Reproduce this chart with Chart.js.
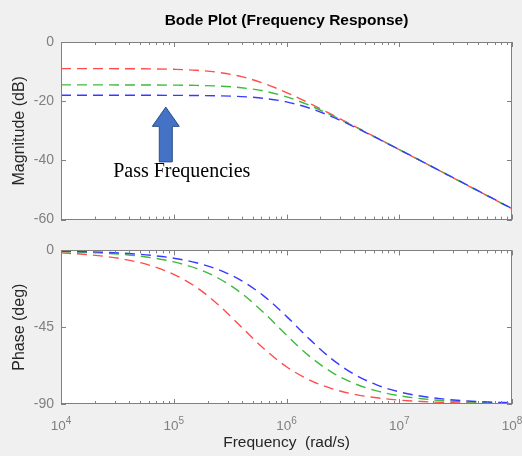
<!DOCTYPE html>
<html><head><meta charset="utf-8">
<script src="https://cdn.jsdelivr.net/npm/chart.js@4/dist/chart.umd.min.js"></script>
<style>
html,body{margin:0;padding:0;background:#f0f0f0;}
#wrap{position:relative;width:522px;height:456px;overflow:hidden;background:#f0f0f0;}
#c1{position:absolute;left:0;top:0;}
#c2{position:absolute;left:0;top:235px;}
</style></head><body>
<div id="wrap"><canvas id="c1" width="522" height="235"></canvas><canvas id="c2" width="522" height="221"></canvas></div>
<script>
// ---- data ----
const freqs = [1e4, 1.585e4, 2.512e4, 3.981e4, 6.31e4, 1e5, 1.585e5, 2.512e5, 3.981e5, 6.31e5, 1e6, 1.585e6, 2.512e6, 3.981e6, 6.31e6, 1e7, 1.585e7, 2.512e7, 3.981e7, 6.31e7, 1e8];
const magRed   = [-9.00,-9.01,-9.01,-9.04,-9.09,-9.23,-9.55,-10.28,-11.69,-13.99,-17.07,-20.64,-24.46,-28.38,-32.35,-36.34,-40.33,-44.33,-48.33,-52.33,-56.33];
const magGreen = [-14.50,-14.50,-14.50,-14.51,-14.53,-14.57,-14.66,-14.90,-15.44,-16.56,-18.52,-21.34,-24.76,-28.51,-32.40,-36.36,-40.34,-44.33,-48.33,-52.33,-56.33];
const magBlue  = [-18.00,-18.00,-18.00,-18.00,-18.01,-18.03,-18.07,-18.18,-18.44,-19.03,-20.23,-22.29,-25.19,-28.66,-32.43,-36.34,-40.30,-44.28,-48.28,-52.27,-56.27];
const phaseRed   = [-1.43,-2.27,-3.59,-5.68,-8.97,-14.04,-21.6,-32.1,-44.86,-57.6,-68.2,-75.8,-80.95,-84.26,-86.37,-87.71,-88.55,-89.09,-89.42,-89.64,-89.77];
const phaseGreen = [-0.67,-1.07,-1.69,-2.68,-4.25,-6.71,-10.56,-16.46,-25.1,-36.6,-49.64,-61.8,-71.3,-77.95,-82.33,-85.14,-86.93,-88.06,-88.78,-89.23,-89.51];
const phaseBlue  = [-0.46,-0.73,-1.15,-1.82,-2.89,-4.57,-7.23,-11.36,-17.67,-26.79,-38.66,-51.74,-63.55,-72.57,-78.79,-82.87,-85.49,-87.15,-88.2,-88.87,-89.28];
const xTickExponents = [4, 5, 6, 7, 8];
const magTicks = [0, -20, -40, -60];
const phaseTicks = [0, -45, -90];
const titleText = 'Bode Plot (Frequency Response)';
const magLabel = 'Magnitude (dB)';
const phaseLabel = 'Phase (deg)';
const freqLabel = 'Frequency  (rad/s)';
const annotationText = 'Pass Frequencies';
// annotation anchors (data space)
const arrowFreq = 8.5e4, arrowTipDb = -22, arrowHeadDb = -28.5, arrowBaseDb = -40.5;
const textFreq = 2.9e4, textDb = -45.5;

// ---- styling ----
const FONT = "'Liberation Sans', Arial, Helvetica, sans-serif";
const SERIF = "'Liberation Serif', 'Times New Roman', serif";
const frameColor = '#808080';
const tickColor = '#808080';
const labelColor = '#262626';
const RED = '#ff4d4d', GREEN = '#3dbb3d', BLUE = '#3a3aff';
Chart.defaults.font.family = FONT;

function series(vals, color, order) {
  return {
    data: freqs.map((f, i) => ({x: f, y: vals[i]})),
    borderColor: color, borderWidth: 1.4, borderDash: [10, 6],
    pointRadius: 0, cubicInterpolationMode: 'monotone', fill: false, order: order
  };
}

const frame = {
  id: 'frame',
  beforeDraw(chart) {
    const a = chart.chartArea, c = chart.ctx;
    c.save(); c.fillStyle = '#ffffff';
    c.fillRect(a.left, a.top, a.right - a.left, a.bottom - a.top);
    c.restore();
  },
  afterDraw(chart) {
    const a = chart.chartArea, c = chart.ctx, xs = chart.scales.x, ys = chart.scales.y;
    const yTicks = chart.options.plugins.frame.yTicks;
    c.save();
    c.strokeStyle = frameColor; c.lineWidth = 1;
    c.beginPath();
    const major = 5, minor = 3;
    xTickExponents.forEach((e, i) => {
      const x = Math.round(xs.getPixelForValue(Math.pow(10, e))) + 0.5;
      c.moveTo(x, a.top); c.lineTo(x, a.top + major);
      c.moveTo(x, a.bottom); c.lineTo(x, a.bottom - major);
      if (i < xTickExponents.length - 1) {
        for (let m = 2; m <= 9; m++) {
          const xm = Math.round(xs.getPixelForValue(m * Math.pow(10, e))) + 0.5;
          c.moveTo(xm, a.top); c.lineTo(xm, a.top + minor);
          c.moveTo(xm, a.bottom); c.lineTo(xm, a.bottom - minor);
        }
      }
    });
    yTicks.forEach(v => {
      const y = Math.round(ys.getPixelForValue(v)) + 0.5;
      c.moveTo(a.left, y); c.lineTo(a.left + major, y);
      c.moveTo(a.right, y); c.lineTo(a.right - major, y);
    });
    c.stroke();
    c.strokeRect(Math.round(a.left) + 0.5, Math.round(a.top) + 0.5,
                 Math.round(a.right - a.left) - 1, Math.round(a.bottom - a.top) - 1);
    c.restore();
  }
};

const annotation = {
  id: 'annot',
  afterDraw(chart) {
    const c = chart.ctx, xs = chart.scales.x, ys = chart.scales.y;
    const cx = xs.getPixelForValue(arrowFreq);
    const tip = ys.getPixelForValue(arrowTipDb);
    const head = ys.getPixelForValue(arrowHeadDb);
    const base = ys.getPixelForValue(arrowBaseDb);
    const hw = 13.5, sw = 6.5;
    c.save();
    c.beginPath();
    c.moveTo(cx, tip);
    c.lineTo(cx + hw, head);
    c.lineTo(cx + sw, head);
    c.lineTo(cx + sw, base);
    c.lineTo(cx - sw, base);
    c.lineTo(cx - sw, head);
    c.lineTo(cx - hw, head);
    c.closePath();
    c.fillStyle = '#4472c4'; c.fill();
    c.strokeStyle = '#2f4f8a'; c.lineWidth = 1; c.stroke();
    c.fillStyle = '#000000';
    c.font = '20px ' + SERIF;
    c.textAlign = 'left'; c.textBaseline = 'alphabetic';
    c.fillText(annotationText, xs.getPixelForValue(textFreq), ys.getPixelForValue(textDb));
    c.restore();
  }
};

const xLabels = {
  id: 'xlabels',
  afterDraw(chart) {
    const c = chart.ctx, xs = chart.scales.x, a = chart.chartArea;
    c.save();
    c.fillStyle = tickColor;
    c.textBaseline = 'alphabetic'; c.textAlign = 'left';
    xTickExponents.forEach(e => {
      const x = xs.getPixelForValue(Math.pow(10, e));
      c.font = '13.5px ' + FONT;
      const w1 = c.measureText('10').width;
      c.font = '10px ' + FONT;
      const w2 = c.measureText(String(e)).width;
      const start = x - (w1 + w2) / 2;
      c.font = '13.5px ' + FONT;
      c.fillText('10', start, a.bottom + 26);
      c.font = '10px ' + FONT;
      c.fillText(String(e), start + w1, a.bottom + 20);
    });
    c.restore();
  }
};

function yAxis(min, max, ticksArr, label) {
  return {
    type: 'linear', min: min, max: max,
    afterBuildTicks: s => { s.ticks = ticksArr.map(v => ({value: v})); },
    afterFit: s => { s.width = 61; },
    grid: {display: false, drawTicks: false}, border: {display: false},
    ticks: {color: tickColor, font: {size: 14, family: FONT}, padding: 7},
    title: {display: true, text: label, color: labelColor, font: {size: 16, family: FONT}, padding: {top: 10.4, bottom: 0}}
  };
}

new Chart(document.getElementById('c1'), {
  type: 'line',
  data: {datasets: [series(magRed, RED, 3), series(magGreen, GREEN, 2), series(magBlue, BLUE, 1)]},
  options: {
    responsive: false, animation: false, devicePixelRatio: 1,
    layout: {padding: {top: 0, right: 10, bottom: 8, left: 0}},
    plugins: {
      legend: {display: false}, tooltip: {enabled: false},
      title: {display: true, text: titleText, fullSize: false, color: '#000000',
              font: {size: 15.5, weight: 'bold', family: FONT}, padding: {top: 11.2, bottom: 12.2}},
      frame: {yTicks: magTicks}
    },
    scales: {
      x: {type: 'logarithmic', min: 1e4, max: 1e8, display: false},
      y: yAxis(-60, 0, magTicks, magLabel)
    }
  },
  plugins: [frame, annotation]
});

new Chart(document.getElementById('c2'), {
  type: 'line',
  data: {datasets: [series(phaseRed, RED, 3), series(phaseGreen, GREEN, 2), series(phaseBlue, BLUE, 1)]},
  options: {
    responsive: false, animation: false, devicePixelRatio: 1,
    layout: {padding: {top: 8, right: 10, bottom: 0, left: 0}},
    plugins: {
      legend: {display: false}, tooltip: {enabled: false},
      frame: {yTicks: phaseTicks}
    },
    scales: {
      x: {
        type: 'logarithmic', min: 1e4, max: 1e8,
        afterBuildTicks: s => { s.ticks = xTickExponents.map(e => ({value: Math.pow(10, e)})); },
        afterFit: s => { s.height = 52; },
        grid: {display: false, drawTicks: false}, border: {display: false},
        ticks: {display: false},
        title: {display: true, text: freqLabel, color: labelColor, font: {size: 15.5, family: FONT}, padding: {top: 0, bottom: 4}}
      },
      y: yAxis(-90, 0, phaseTicks, phaseLabel)
    }
  },
  plugins: [frame, xLabels]
});
</script>
</body></html>
